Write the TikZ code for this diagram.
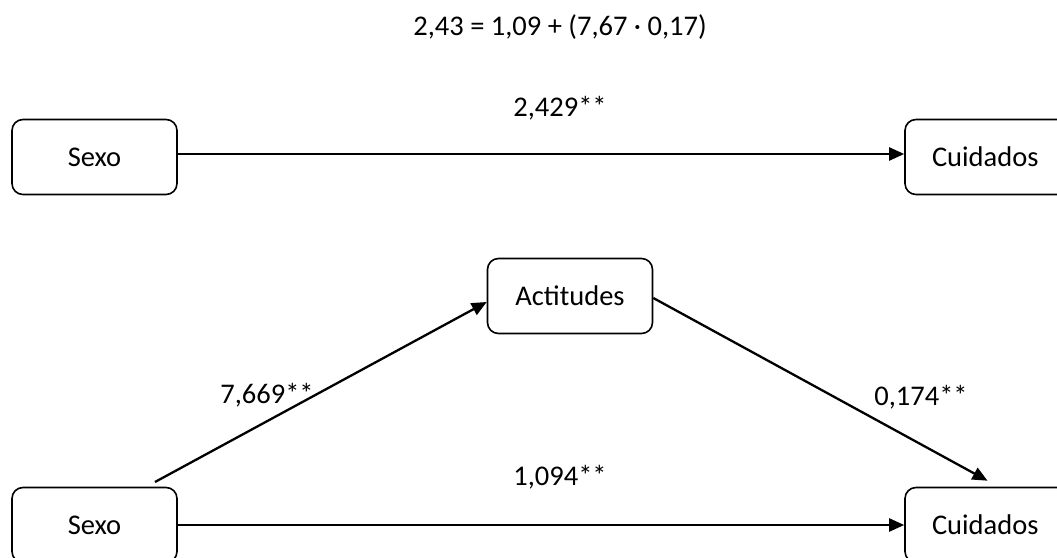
\documentclass[tikz,border=0pt]{standalone}
\usepackage{fontspec}
\setmainfont{Carlito}
\usetikzlibrary{arrows.meta,calc}
\begin{document}
\begin{tikzpicture}[x=1pt,y=-1pt,
  box/.style={draw,line width=1.6pt,rounded corners=11pt,minimum width=165pt,minimum height=75pt,inner sep=0pt,font=\fontsize{28.5}{32}\selectfont},
  lbl/.style={font=\fontsize{28.5}{32}\selectfont,inner sep=0pt},
  conn/.style={line width=2.3pt,-{Triangle[length=15pt,width=13pt]}}]
\useasboundingbox (0,0) rectangle (1057,557);
\node[lbl] (eq) at (560,27) {2,43 = 1,09 + (7,67 · 0,17)};
\node[box] (s1) at (94.5,157) {Sexo};
\node[box,minimum width=165pt,text width=165pt,align=left] (c1) at (987.5,157) {\hspace{27pt}Cuidados};
\node[box] (a) at (570,296) {Actitudes};
\node[box] (s2) at (94.5,525) {Sexo};
\node[box,minimum width=165pt,text width=165pt,align=left] (c2) at (987.5,525) {\hspace{27pt}Cuidados};
\draw[conn] ($(s1.east)+(0,-3)$) -- ($(c1.west)+(0,-3)$);
\draw[conn] (s2.east) -- (c2.west);
\coordinate (d1) at (155,482);
\coordinate (d2) at ($(c2.north)+(0,-6)$);
\draw[conn] (d1) -- ($(a.west)+(0,6)$);
\draw[conn] ($(a.east)+(0,2)$) -- (d2);
\node[lbl] (l1) at (560,108) {2,429**};
\node[lbl] (l2) at (267,395) {7,669**};
\node[lbl] (l3) at (921,397) {0,174**};
\node[lbl] (l4) at (560,477) {1,094**};
\end{tikzpicture}
\end{document}
